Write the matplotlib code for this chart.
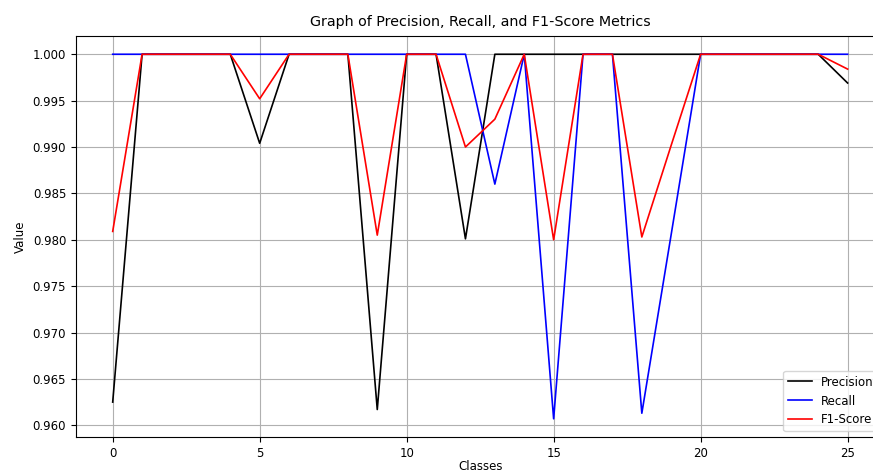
import numpy as np
import matplotlib.pyplot as plt

classes = list(range(26))
precision = [0.9625, 1, 1, 1, 1, 0.9904, 1, 1, 1, 0.9617, 1, 1, 0.9801, 1, 1,
             1, 1, 1, 1, 1, 1, 1, 1, 1, 1, 0.9969]
recall = [1, 1, 1, 1, 1, 1, 1, 1, 1, 1, 1, 1, 1, 0.986, 1,
          0.9607, 1, 1, 0.9613, 0.9806, 1, 1, 1, 1, 1, 1]
f1_score = [0.9809, 1, 1, 1, 1, 0.9952, 1, 1, 1, 0.9805, 1, 1, 0.9900, 0.9930, 1,
            0.9800, 1, 1, 0.9803, 0.9902, 1, 1, 1, 1, 1, 0.9984]


def main():
    fig = plt.figure(figsize=(8.73, 4.74), dpi=100)
    # axes run past the right edge, as in the cropped original
    ax = fig.add_axes([0.087, 0.078, 0.926, 0.846])
    ax.plot(classes, precision, color='black', lw=1.2, label='Precision')
    ax.plot(classes, recall, color='blue', lw=1.2, label='Recall')
    ax.plot(classes, f1_score, color='red', lw=1.2, label='F1-Score')
    ax.set_title("Graph of Precision, Recall, and F1-Score Metrics", fontsize=10.3, pad=7)
    ax.set_xlabel("Classes", fontsize=8.5, labelpad=0)
    ax.set_ylabel("Value", fontsize=8.5)
    ax.tick_params(labelsize=8.5)
    ax.grid(True)
    ax.legend(loc='lower right', fontsize=8.5)
    fig.savefig("out.png", dpi=100)


if __name__ == "__main__":
    main()
